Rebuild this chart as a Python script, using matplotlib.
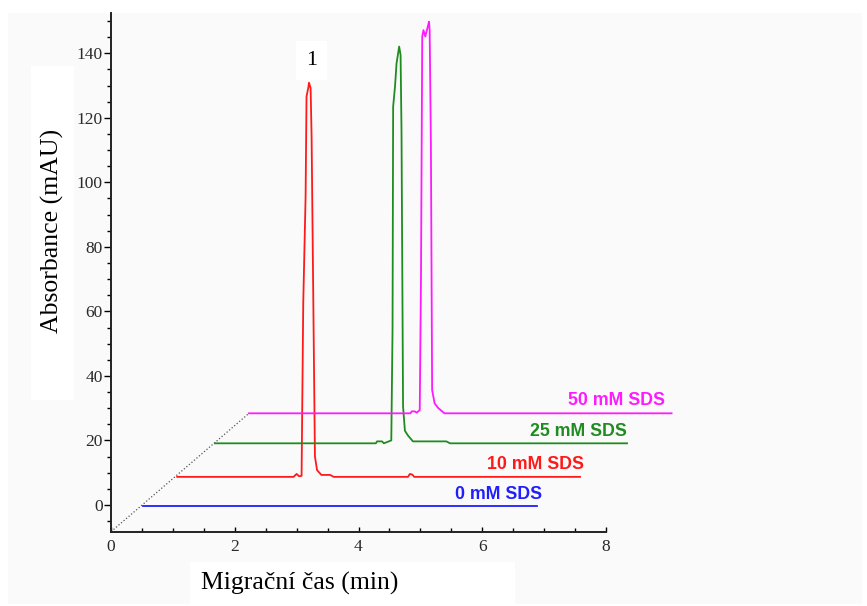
import matplotlib.pyplot as plt
from matplotlib.patches import Rectangle
from matplotlib.ticker import MultipleLocator

plt.rcParams['font.family'] = ['Liberation Serif', 'DejaVu Serif']

# trace data (time in min, absorbance in mAU, offsets included)
labels = ['0 mM SDS', '10 mM SDS', '25 mM SDS', '50 mM SDS']

t0 = [0.52, 6.88]
a0 = [-0.2, -0.2]

t10 = [1.07, 2.95, 3.0, 3.04, 3.08, 3.107, 3.145, 3.16, 3.19, 3.20, 3.226, 3.242,
       3.27, 3.296, 3.33, 3.40, 3.54, 3.60, 4.80, 4.83, 4.87, 4.90, 7.58]
a10 = [8.7, 8.7, 9.6, 8.9, 9.0, 62.6, 95.6, 126.6, 129.5, 130.9, 129.2, 114.2,
       62.6, 15.0, 10.8, 9.3, 9.3, 8.7, 8.7, 9.6, 9.4, 8.7, 8.7]

t25 = [1.68, 4.28, 4.30, 4.38, 4.41, 4.53, 4.55, 4.56, 4.59, 4.615, 4.657, 4.68,
       4.695, 4.72, 4.75, 4.80, 4.88, 5.42, 5.48, 8.34]
a25 = [19.1, 19.1, 19.7, 19.7, 19.1, 20.0, 54.0, 123.5, 129.7, 136.9, 142.1, 139.5,
       116.0, 30.5, 23.0, 21.5, 19.7, 19.7, 19.1, 19.1]

t50 = [2.23, 4.84, 4.86, 4.91, 4.94, 4.99, 5.01, 5.03, 5.05, 5.08, 5.12, 5.14,
       5.15, 5.17, 5.19, 5.23, 5.29, 5.39, 9.06]
a50 = [28.4, 28.4, 29.0, 29.0, 28.6, 29.4, 70.8, 145.2, 147.2, 145.2, 148.3, 149.8,
       147.2, 112.0, 35.6, 31.5, 30.0, 28.4, 28.4]

times = [t0, t10, t25, t50]
absorb = [a0, a10, a25, a50]
colors = ['#1f1fff', '#ff1a1a', '#1f8c1f', '#ff1aff']

fig = plt.figure(figsize=(8.67, 6.06), dpi=100)
W, H = 867, 606

# light grey page behind the plot, white boxes behind the axis titles
fig.add_artist(Rectangle((8 / W, 1 - 604 / H), 854 / W, 591 / H, transform=fig.transFigure,
                         facecolor='#fafafa', edgecolor='none', zorder=-10))
fig.add_artist(Rectangle((31 / W, 1 - 400 / H), 43 / W, 334 / H, transform=fig.transFigure,
                         facecolor='white', edgecolor='none', zorder=-5))
fig.add_artist(Rectangle((190 / W, 1 - 604 / H), 325 / W, 42 / H, transform=fig.transFigure,
                         facecolor='white', edgecolor='none', zorder=-5))

ax = fig.add_axes([111 / W, 1 - 531.7 / H, 495 / W, 518.7 / H])
ax.set_facecolor('none')

for t, a, c in zip(times, absorb, colors):
    ax.plot(t, a, color=c, lw=1.3, clip_on=False)

# dotted depth axis through the start of every trace
ax.plot([0, t50[0]], [-8.3, a50[0]], color='#555555', ls=':', lw=0.9, clip_on=False)

label_pos = [(6.97, 3.1), (7.64, 12.4), (8.34, 22.7), (8.95, 32.3)]
for (x, y), lab, c in zip(label_pos, labels, colors):
    ax.text(x, y, lab, ha='right', va='center', fontsize=12.8, fontweight='bold',
            family='Liberation Sans', color=c, clip_on=False)

ax.text(3.24, 137.9, '1', ha='center', va='center', fontsize=16,
        bbox=dict(boxstyle='square,pad=0.45', facecolor='white', edgecolor='none'))

ax.set_xlim(0, 8)
ax.xaxis.set_major_locator(MultipleLocator(2))
ax.xaxis.set_minor_locator(MultipleLocator(0.5))
ax.yaxis.set_minor_locator(MultipleLocator(5))
ax.set_yticks(range(0, 141, 20))
ax.set_ylim(-8.3, 152.5)

for s in ['top', 'right']:
    ax.spines[s].set_visible(False)
for s in ['left', 'bottom']:
    ax.spines[s].set_linewidth(1.4)
    ax.spines[s].set_color('#222222')

ax.tick_params(axis='y', which='major', direction='out', length=5, width=1, labelsize=12.5,
               labelcolor='#2a2a2a', pad=1)
ax.tick_params(axis='y', which='minor', direction='out', length=3, width=1)
ax.tick_params(axis='x', which='major', direction='in', length=3.5, width=1, labelsize=12.5,
               labelcolor='#2a2a2a', pad=5)
ax.tick_params(axis='x', which='minor', direction='in', length=3, width=1)

fig.text(52 / W, 1 - 231 / H, 'Absorbance (mAU)', rotation=90, ha='center', va='center',
         fontsize=18.5)
fig.text(300 / W, 1 - 583 / H, 'Migrační čas (min)', ha='center', va='center', fontsize=18.5)

fig.savefig('out.png', dpi=100)
